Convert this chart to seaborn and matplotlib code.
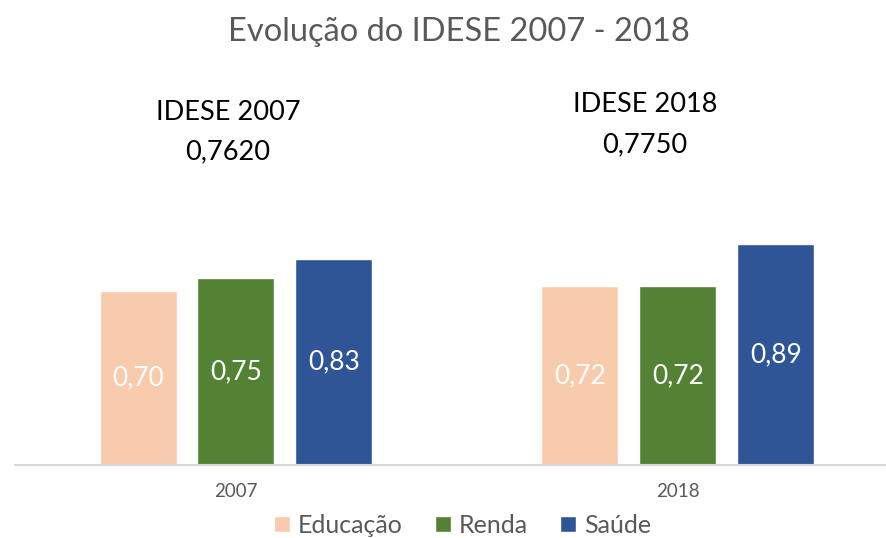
import pandas as pd
import seaborn as sns
import matplotlib.pyplot as plt

# data
anos = ["2007", "2018"]
componentes = ["Educação", "Renda", "Saúde"]
educacao = [0.70, 0.72]
renda = [0.75, 0.72]
saude = [0.83, 0.89]
idese_total = ["0,7620", "0,7750"]

cores = ["#F8CBAD", "#548235", "#2F5597"]
CINZA = "#595959"

sns.set_theme(style="white")
plt.rcParams['font.family'] = ['Lato', 'DejaVu Sans']

df = pd.DataFrame({
    "ano": anos * 3,
    "componente": [c for c in componentes for _ in anos],
    "valor": educacao + renda + saude,
})

fig = plt.figure(figsize=(8.87, 5.38), dpi=100)
ax = fig.add_axes([15 / 887, 73 / 538, 872 / 887, 245 / 538])

sns.barplot(data=df, x="ano", y="valor", hue="componente", hue_order=componentes,
            palette=cores, width=0.665, gap=0.214, ax=ax, legend=True,
            saturation=1)

# white value labels in the middle of each bar
for cont in ax.containers:
    ax.bar_label(cont, labels=[f"{v:.2f}".replace(".", ",") for v in cont.datavalues],
                 label_type="center", color="white", fontsize=19)

ax.set_ylim(0, 0.985)
ax.set_xlim(-0.5, 1.473)
ax.set_yticks([])
ax.set_xlabel("")
ax.set_ylabel("")
for s in ["top", "right", "left"]:
    ax.spines[s].set_visible(False)
ax.spines["bottom"].set_color("#D9D9D9")
ax.spines["bottom"].set_linewidth(1.5)
ax.tick_params(axis="x", length=0, pad=13, labelsize=13.5, labelcolor=CINZA)

# legend at the bottom
leg = ax.legend(loc="lower center", bbox_to_anchor=(0.513, -0.385),
                ncol=3, frameon=False, fontsize=18, handlelength=0.65, handleheight=0.65,
                handletextpad=0.3, columnspacing=1.3)
for t in leg.get_texts():
    t.set_color(CINZA)

# IDESE totals above each group
fig.text(228 / 887, 1 - 112 / 538, "IDESE 2007", ha="center", va="center", fontsize=19.5, color="black")
fig.text(228 / 887, 1 - 152 / 538, idese_total[0], ha="center", va="center", fontsize=19.5, color="black")
fig.text(645 / 887, 1 - 105 / 538, "IDESE 2018", ha="center", va="center", fontsize=19.5, color="black")
fig.text(645 / 887, 1 - 145 / 538, idese_total[1], ha="center", va="center", fontsize=19.5, color="black")

fig.text(459 / 887, 1 - 32 / 538, "Evolução do IDESE 2007 - 2018", ha="center", va="center",
         fontsize=23.5, color=CINZA)

fig.savefig("out.png", dpi=100)
